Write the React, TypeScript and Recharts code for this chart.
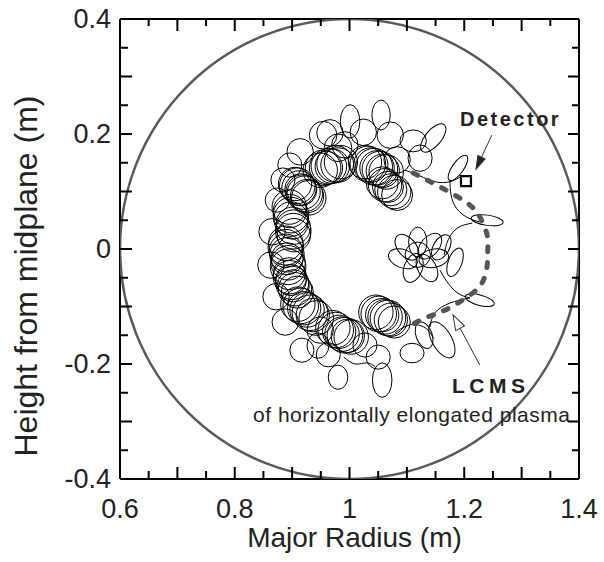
import React from 'react';
import { ScatterChart, Scatter, XAxis, YAxis, ReferenceDot, ReferenceLine } from 'recharts';

// ---- axis ticks (m) ----
const xTicks = [0.6, 0.65, 0.7, 0.75, 0.8, 0.85, 0.9, 0.95, 1.0, 1.05, 1.1, 1.15, 1.2, 1.25, 1.3, 1.35, 1.4];
const yTicks = [-0.4, -0.35, -0.3, -0.25, -0.2, -0.15, -0.1, -0.05, 0, 0.05, 0.1, 0.15, 0.2, 0.25, 0.3, 0.35, 0.4];
const xLabelValues = [0.6, 0.8, 1.0, 1.2, 1.4];
const xLabelText = ['0.6', '0.8', '1', '1.2', '1.4'];
const yLabelValues = [-0.4, -0.2, 0, 0.2, 0.4];
const yLabelText = ['-0.4', '-0.2', '0', '0.2', '0.4'];

// ---- vacuum vessel: centre R, Z and radius (m) ----
const vessel = [[1.0, 0.0, 0.4]];

// ---- dense gyro-orbit circles of the inner "C": R, Z, radius (m) ----
const denseLoops = [
  // top, left part
  [0.949, 0.137, 0.030], [0.954, 0.141, 0.031], [0.959, 0.141, 0.029], [0.964, 0.144, 0.031],
  [0.970, 0.144, 0.030], [0.975, 0.148, 0.032], [0.980, 0.146, 0.030], [0.985, 0.151, 0.029],
  // top, right part
  [1.027, 0.151, 0.029], [1.032, 0.148, 0.031], [1.037, 0.146, 0.030], [1.043, 0.143, 0.032],
  [1.048, 0.141, 0.030], [1.053, 0.139, 0.031], [1.058, 0.136, 0.029], [1.064, 0.134, 0.030],
  [1.057, 0.115, 0.028], [1.062, 0.111, 0.029], [1.067, 0.108, 0.027], [1.072, 0.103, 0.028],
  [1.078, 0.099, 0.029], [1.083, 0.094, 0.027],
  // left spine
  [0.905, 0.113, 0.029], [0.909, 0.110, 0.031], [0.912, 0.106, 0.030], [0.915, 0.103, 0.028],
  [0.919, 0.099, 0.030], [0.922, 0.096, 0.031], [0.926, 0.092, 0.029], [0.929, 0.089, 0.030],
  [0.895, 0.073, 0.030], [0.896, 0.066, 0.029], [0.898, 0.059, 0.031], [0.898, 0.052, 0.030],
  [0.900, 0.045, 0.028], [0.902, 0.038, 0.030], [0.902, 0.031, 0.031], [0.903, 0.024, 0.029],
  [0.889, 0.010, 0.030], [0.889, 0.003, 0.031], [0.889, -0.003, 0.029], [0.891, -0.010, 0.030],
  [0.891, -0.017, 0.028], [0.893, -0.024, 0.030], [0.893, -0.031, 0.031],
  [0.895, -0.043, 0.028], [0.896, -0.049, 0.029], [0.898, -0.054, 0.027], [0.900, -0.059, 0.029],
  [0.902, -0.064, 0.028], [0.905, -0.070, 0.029], [0.909, -0.075, 0.028],
  // bottom
  [0.910, -0.096, 0.030], [0.915, -0.099, 0.031], [0.921, -0.103, 0.029], [0.926, -0.106, 0.030],
  [0.931, -0.111, 0.031], [0.936, -0.115, 0.029], [0.942, -0.120, 0.030],
  [0.971, -0.137, 0.030], [0.976, -0.141, 0.031], [0.982, -0.144, 0.029], [0.987, -0.148, 0.030],
  [0.992, -0.150, 0.031], [0.997, -0.151, 0.029], [1.003, -0.153, 0.030],
  [1.046, -0.110, 0.030], [1.051, -0.113, 0.031], [1.057, -0.115, 0.029], [1.062, -0.118, 0.030],
  [1.067, -0.120, 0.031], [1.072, -0.123, 0.029], [1.078, -0.127, 0.028],
];

// ---- outer / elongated loops: R, Z, half-width, half-height (m), tilt (deg) ----
const outerLoops = [
  // top edge
  [1.001, 0.222, 0.017, 0.029, 0], [1.055, 0.233, 0.016, 0.026, 0], [0.966, 0.202, 0.023, 0.023, 0],
  [0.954, 0.198, 0.024, 0.024, 0], [0.914, 0.169, 0.023, 0.023, 0], [0.896, 0.146, 0.021, 0.021, 0],
  [0.884, 0.120, 0.021, 0.021, 0], [0.980, 0.176, 0.024, 0.024, 0], [1.024, 0.203, 0.023, 0.023, 0],
  [1.071, 0.198, 0.023, 0.023, 0], [1.111, 0.188, 0.023, 0.019, 0], [1.146, 0.193, 0.014, 0.030, 40],
  [1.123, 0.158, 0.021, 0.023, 0], [1.083, 0.155, 0.023, 0.023, 0], [0.992, 0.181, 0.023, 0.023, 0],
  // left edge
  [0.874, 0.085, 0.021, 0.021, 0], [0.865, 0.030, 0.023, 0.023, 0], [0.863, -0.028, 0.023, 0.023, 0],
  [0.872, -0.083, 0.023, 0.023, 0], [0.888, -0.127, 0.023, 0.023, 0],
  // bottom edge
  [0.917, -0.176, 0.021, 0.021, 0], [0.963, -0.184, 0.021, 0.021, 0], [0.945, -0.168, 0.019, 0.022, 0],
  [0.980, -0.223, 0.017, 0.021, 0], [1.057, -0.228, 0.017, 0.030, 0], [1.050, -0.188, 0.021, 0.021, 0],
  [1.109, -0.181, 0.021, 0.017, 0], [1.161, -0.158, 0.017, 0.035, -30], [1.027, -0.167, 0.021, 0.021, 0],
  [0.949, -0.141, 0.023, 0.023, 0], [1.130, -0.150, 0.014, 0.024, -20],
  // right side, near LCMS
  [1.189, 0.141, 0.010, 0.026, 35], [1.240, 0.050, 0.028, 0.009, 8], [1.227, -0.089, 0.026, 0.009, 15],
  [1.184, -0.023, 0.012, 0.026, 20],
  // flower inside the C
  [1.100, 0.003, 0.016, 0.026, -40], [1.119, 0.012, 0.016, 0.026, 0], [1.140, 0.005, 0.016, 0.026, 40],
  [1.147, -0.016, 0.016, 0.026, 80], [1.135, -0.033, 0.016, 0.026, -30], [1.111, -0.033, 0.016, 0.026, 20],
  [1.093, -0.017, 0.016, 0.026, -70], [1.119, -0.010, 0.022, 0.022, 0], [1.160, 0.003, 0.014, 0.024, 30],
];

// ---- connecting orbit strands: R, Z ----
const strand1 = [[1.097, 0.137], [1.123, 0.127], [1.149, 0.117], [1.175, 0.117], [1.196, 0.127]];
const strand2 = [[1.175, 0.120], [1.177, 0.094], [1.187, 0.070], [1.207, 0.054], [1.227, 0.047]];
const strand3 = [[1.214, 0.045], [1.189, 0.037], [1.172, 0.016], [1.165, -0.010]];
const strand4 = [[1.158, -0.037], [1.170, -0.057], [1.189, -0.077], [1.210, -0.085]];
const strand5 = [[1.210, -0.085], [1.175, -0.094], [1.149, -0.111], [1.140, -0.136]];
const strand6 = [[1.079, -0.146], [1.105, -0.132], [1.132, -0.137], [1.146, -0.155]];
const strand7 = [[0.990, -0.188], [1.010, -0.200], [1.030, -0.198], [1.045, -0.205]];

// ---- last closed magnetic surface (dashed): R, Z ----
const lcms = [
  [1.111, 0.132], [1.158, 0.108], [1.205, 0.080], [1.227, 0.056], [1.240, 0.024], [1.241, -0.002], [1.240, -0.028],
  [1.231, -0.059], [1.210, -0.080], [1.184, -0.097], [1.158, -0.110], [1.132, -0.120], [1.105, -0.134],
];

// ---- detector position: R, Z ----
const detector = [[1.203, 0.118]];

const W = 604;
const H = 562;
const MARGIN = { top: 10, right: 15, bottom: 0, left: 0 };
const LEFT_W = 120;
const RIGHT_W = 10;
const TOP_H = 9;
const BOTTOM_H = 83;
const PLOT_W = W - MARGIN.left - MARGIN.right - LEFT_W - RIGHT_W;
const PLOT_H = H - MARGIN.top - MARGIN.bottom - TOP_H - BOTTOM_H;
const KX = PLOT_W / (1.4 - 0.6);
const KY = PLOT_H / (0.4 - -0.4);
const FONT = "Arial, 'Liberation Sans', Helvetica, sans-serif";

const pts = (rows: number[][]) => rows.map(([R, Z]) => ({ R, Z }));
const loops = (rows: number[][]) => rows.map(([R, Z, a, b, t]) => ({ R, Z, a, b: b ?? a, t: t ?? 0 }));

const near = (a: number, b: number) => Math.abs(a - b) < 1e-6;
const isMajor = (v: number) => near(v * 10, Math.round(v * 10));
const labelOf = (v: number, vals: number[], txt: string[]) => {
  const i = vals.findIndex((u) => near(u, v));
  return i >= 0 ? txt[i] : null;
};

const BottomTick = ({ x, y, payload }: any) => {
  const v = payload.value;
  const lab = labelOf(v, xLabelValues, xLabelText);
  return (
    <g>
      <line x1={x} x2={x} y1={y} y2={y - (isMajor(v) ? 12 : 8)} stroke="#000" strokeWidth={2} />
      {lab && (
        <text x={x} y={y + 39} textAnchor="middle" fontSize={27} fill="#222" fontFamily={FONT}>{lab}</text>
      )}
    </g>
  );
};
const TopTick = ({ x, y, payload }: any) => (
  <line x1={x} x2={x} y1={y} y2={y + (isMajor(payload.value) ? 12 : 7)} stroke="#000" strokeWidth={2} />
);
const LeftTick = ({ x, y, payload }: any) => {
  const v = payload.value;
  const lab = labelOf(v, yLabelValues, yLabelText);
  return (
    <g>
      <line x1={x} x2={x + (isMajor(v) ? 12 : 8)} y1={y} y2={y} stroke="#000" strokeWidth={2} />
      {lab && (
        <text x={x - 9} y={y + 9} textAnchor="end" fontSize={27} fill="#222" fontFamily={FONT}>{lab}</text>
      )}
    </g>
  );
};
const RightTick = ({ x, y, payload }: any) => (
  <line x1={x} x2={x - (isMajor(payload.value) ? 11 : 7)} y1={y} y2={y} stroke="#000" strokeWidth={2} />
);

const makeEllipse = (stroke: string, width: number) => (p: any) => {
  const { cx, cy, payload } = p;
  if (cx == null || cy == null) return <g />;
  return (
    <ellipse
      cx={cx}
      cy={cy}
      rx={payload.a * KX}
      ry={payload.b * KY}
      transform={payload.t ? `rotate(${payload.t} ${cx} ${cy})` : undefined}
      fill="none"
      stroke={stroke}
      strokeWidth={width}
    />
  );
};
const VesselShape = makeEllipse('#595959', 2.5);
const LoopShape = makeEllipse('#000', 1);
const NoShape = () => <g />;

const DetectorShape = (p: any) => (
  <rect x={p.cx - 5} y={p.cy - 5} width={10} height={10} fill="#fff" stroke="#000" strokeWidth={2.2} />
);

const arrowHead = (angle: number, len: number, half: number, fill: string) => (p: any) => (
  <polygon
    points={`0,0 ${-len},${-half} ${-len},${half}`}
    transform={`translate(${p.cx} ${p.cy}) rotate(${angle})`}
    fill={fill}
    stroke="#333"
    strokeWidth={1}
  />
);

const textAt = (txt: string, size: number, weight: string | number, spacing: number, length?: number) => (p: any) => (
  <text
    x={p.cx}
    y={p.cy}
    fontSize={size}
    fontWeight={weight}
    letterSpacing={spacing}
    fill="#222"
    fontFamily={FONT}
    textLength={length}
    lengthAdjust={length ? 'spacing' : undefined}
  >
    {txt}
  </text>
);

const XTitle = () => (
  <text
    x={MARGIN.left + LEFT_W + PLOT_W / 2 + 5}
    y={H - BOTTOM_H + 68}
    textAnchor="middle"
    fontSize={28}
    fill="#222"
    fontFamily={FONT}
  >
    Major Radius (m)
  </text>
);
const YTitle = () => {
  const x = MARGIN.left + LEFT_W - 83;
  const y = MARGIN.top + TOP_H + PLOT_H / 2 + 27;
  return (
    <text x={x} y={y} transform={`rotate(-90 ${x} ${y})`} textAnchor="middle" fontSize={32} fill="#222" fontFamily={FONT}>
      Height from midplane (m)
    </text>
  );
};

export default function App() {
  const strandStyle = { stroke: '#000', strokeWidth: 1 };
  const strands = [strand1, strand2, strand3, strand4, strand5, strand6, strand7];
  return (
    <div style={{ position: 'absolute', left: 0, top: 0, width: W, height: H, background: '#fff' }}>
      <ScatterChart width={W} height={H} margin={MARGIN}>
        <XAxis
          dataKey="R"
          type="number"
          domain={[0.6, 1.4]}
          ticks={xTicks}
          interval={0}
          height={BOTTOM_H}
          tickSize={0}
          tickMargin={0}
          tickLine={false}
          axisLine={{ stroke: '#000', strokeWidth: 2 }}
          tick={<BottomTick />}
          allowDataOverflow
          label={{ content: <XTitle /> }}
        />
        <XAxis
          xAxisId="top"
          orientation="top"
          dataKey="R"
          type="number"
          domain={[0.6, 1.4]}
          ticks={xTicks}
          interval={0}
          height={TOP_H}
          tickSize={0}
          tickMargin={0}
          tickLine={false}
          axisLine={{ stroke: '#000', strokeWidth: 2 }}
          tick={<TopTick />}
          allowDataOverflow
        />
        <YAxis
          dataKey="Z"
          type="number"
          domain={[-0.4, 0.4]}
          ticks={yTicks}
          interval={0}
          width={LEFT_W}
          tickSize={0}
          tickMargin={0}
          tickLine={false}
          axisLine={{ stroke: '#000', strokeWidth: 2 }}
          tick={<LeftTick />}
          allowDataOverflow
          label={{ content: <YTitle /> }}
        />
        <YAxis
          yAxisId="right"
          orientation="right"
          dataKey="Z"
          type="number"
          domain={[-0.4, 0.4]}
          ticks={yTicks}
          interval={0}
          width={RIGHT_W}
          tickSize={0}
          tickMargin={0}
          tickLine={false}
          axisLine={{ stroke: '#000', strokeWidth: 2 }}
          tick={<RightTick />}
          allowDataOverflow
        />

        <Scatter data={loops(vessel)} shape={VesselShape} isAnimationActive={false} />
        <Scatter data={loops(denseLoops)} shape={LoopShape} isAnimationActive={false} />
        <Scatter data={loops(outerLoops)} shape={LoopShape} isAnimationActive={false} />
        {strands.map((s, i) => (
          <Scatter
            key={i}
            data={pts(s)}
            line={strandStyle}
            lineJointType="natural"
            shape={NoShape}
            isAnimationActive={false}
          />
        ))}
        <Scatter
          data={pts(lcms)}
          line={{ stroke: '#555', strokeWidth: 5, strokeDasharray: '5 11', strokeLinecap: 'round' }}
          lineJointType="natural"
          shape={NoShape}
          isAnimationActive={false}
        />
        <Scatter data={pts(detector)} shape={DetectorShape} isAnimationActive={false} />

        <ReferenceLine segment={[{ x: 1.248, y: 0.198 }, { x: 1.2205, y: 0.139 }]} stroke="#333" strokeWidth={1} />
        <ReferenceDot x={1.2205} y={0.139} shape={arrowHead(115, 13, 4, '#222')} />
        <ReferenceLine segment={[{ x: 1.227, y: -0.2017 }, { x: 1.1926, y: -0.1374 }]} stroke="#333" strokeWidth={1} />
        <ReferenceDot x={1.1804} y={-0.1148} shape={arrowHead(-118, 15, 5, '#fff')} />

        <ReferenceDot x={1.1926} y={0.2139} shape={textAt('Detector', 20, 'bold', 2.5)} />
        <ReferenceDot x={1.1786} y={-0.2504} shape={textAt('LCMS', 21, 'bold', 4.5)} />
        <ReferenceDot x={0.8318} y={-0.3009} shape={textAt('of horizontally elongated plasma', 21, 'normal', 0, 317)} />
      </ScatterChart>
    </div>
  );
}
